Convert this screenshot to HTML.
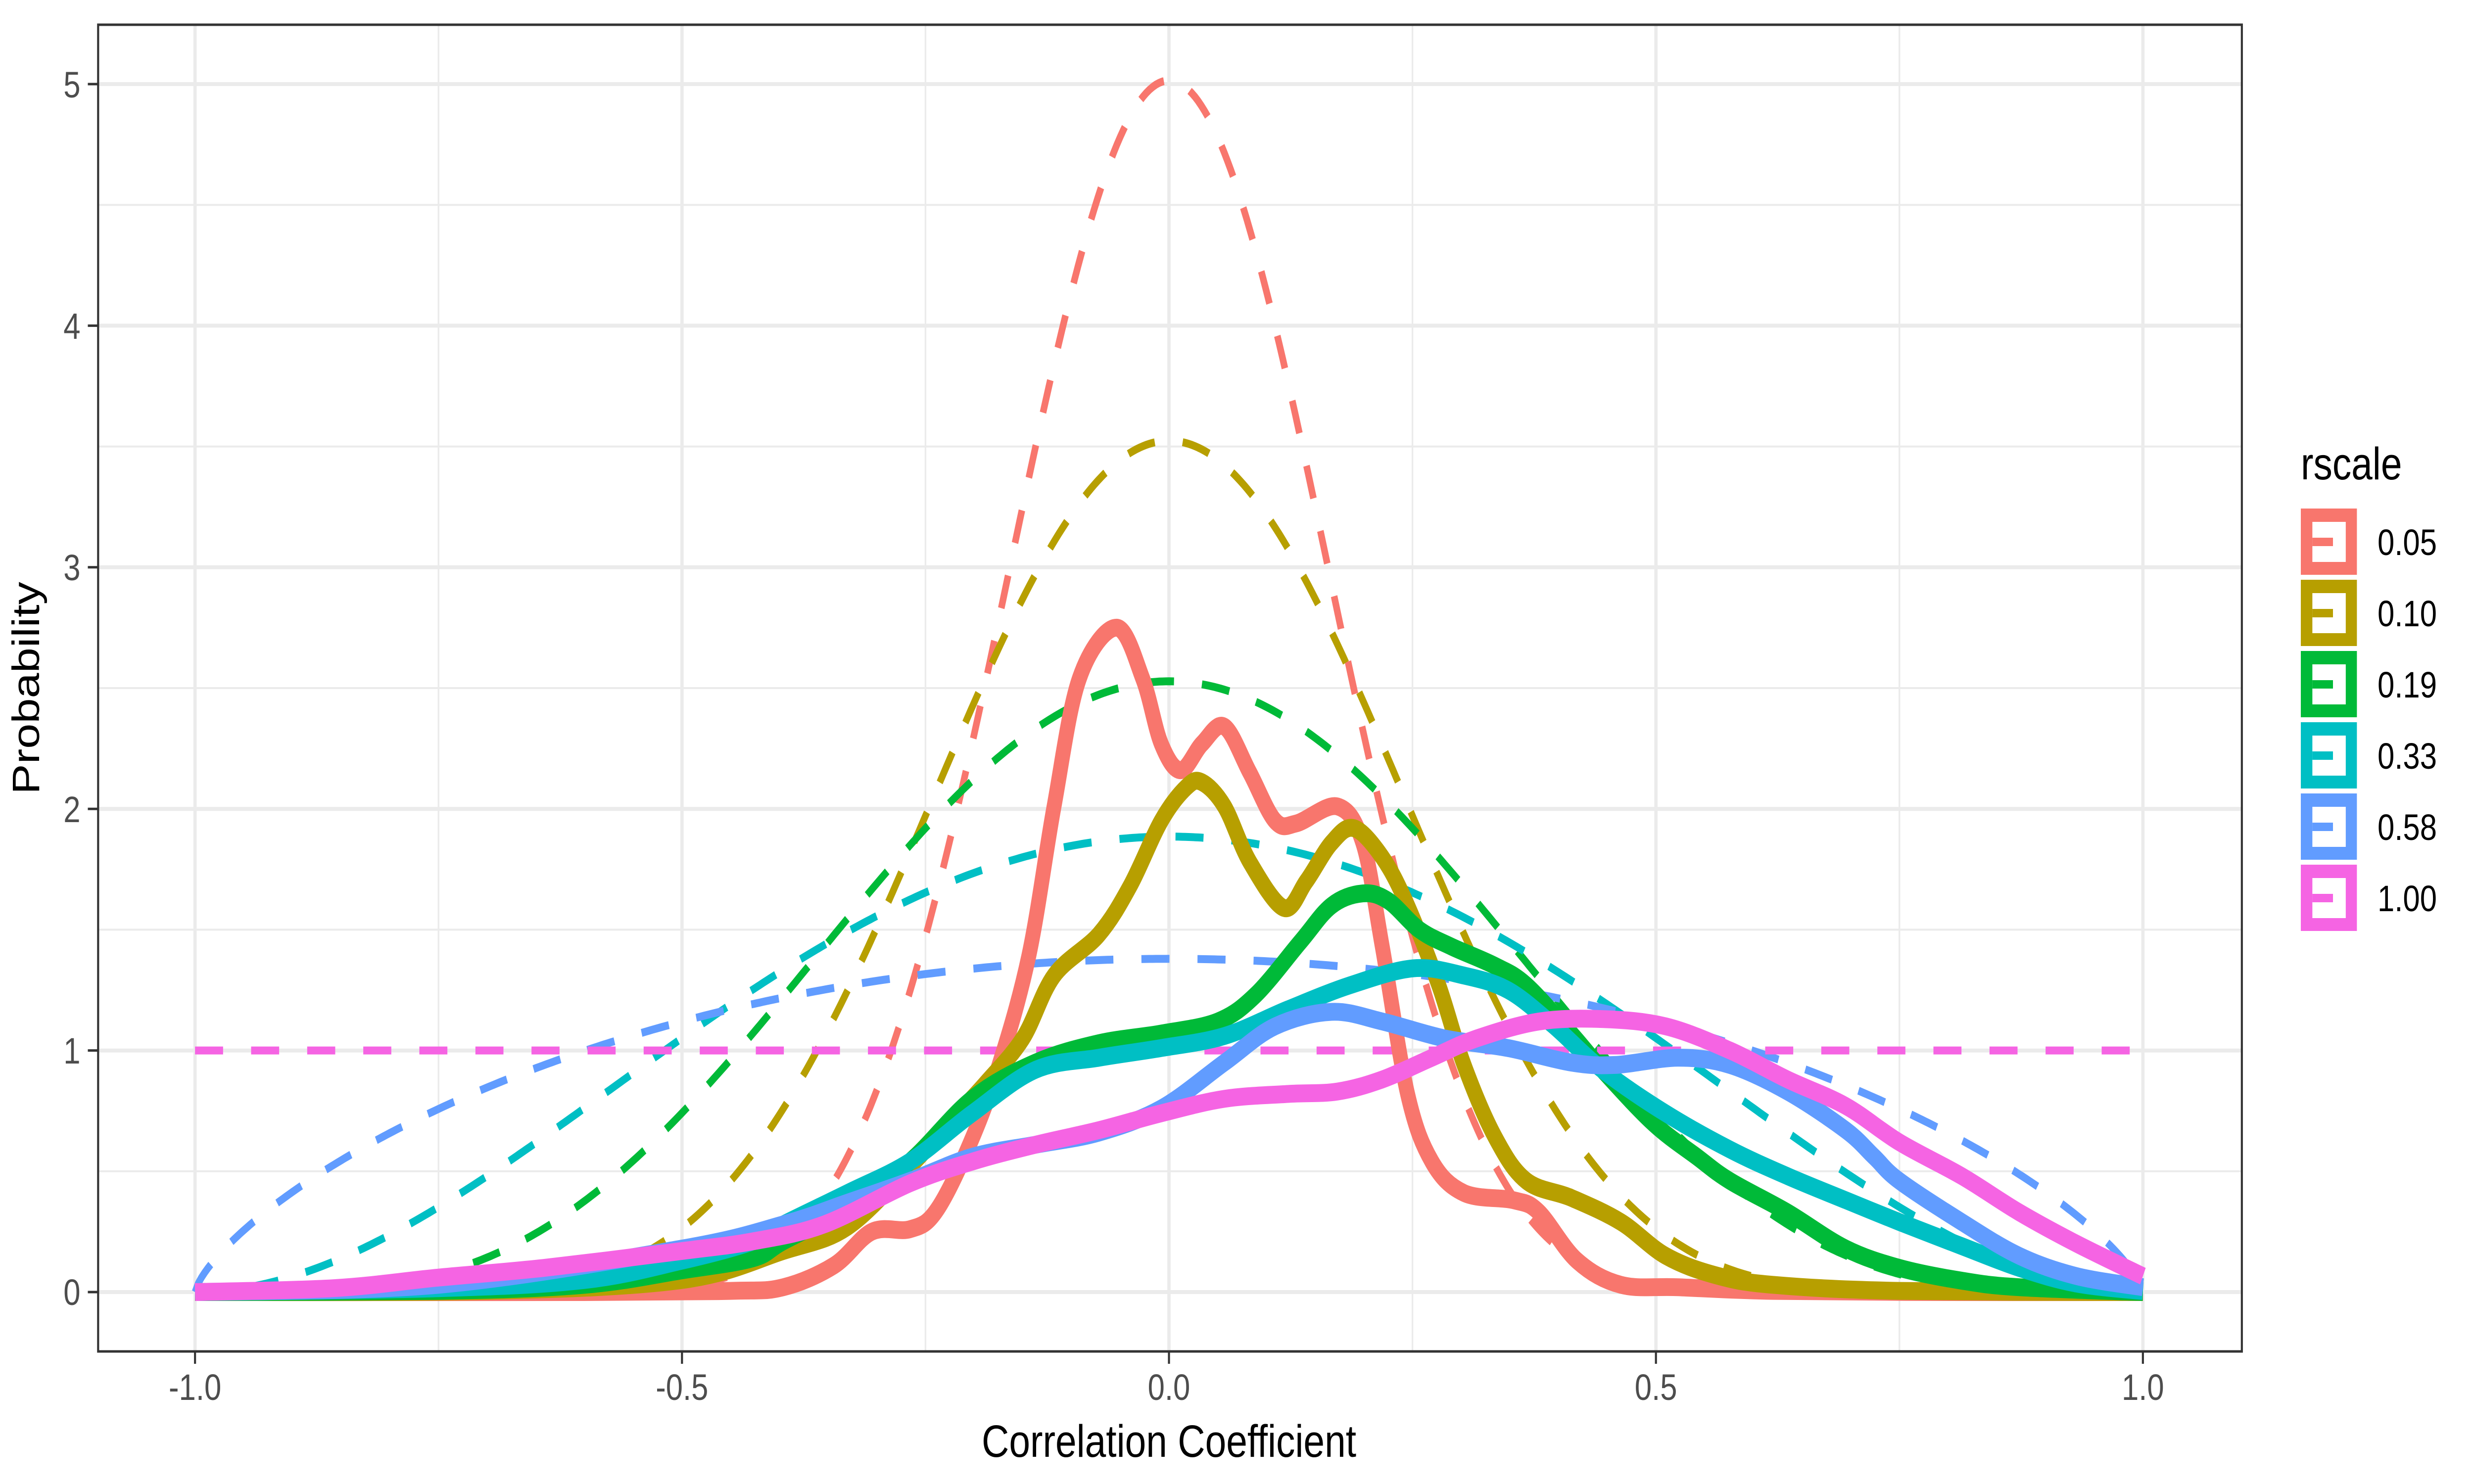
<!DOCTYPE html>
<html><head><meta charset="utf-8">
<style>
html,body{margin:0;padding:0;background:#fff;overflow:hidden;width:100%;height:100%;}
svg{display:block;width:100vw;height:100vh;}
text{font-family:"Liberation Sans",Arial,sans-serif;}
</style></head>
<body>
<svg id="s" viewBox="0 0 6000 3000" preserveAspectRatio="none" xmlns="http://www.w3.org/2000/svg">
<rect x="0" y="0" width="6000" height="3000" fill="#fff"/>
<g id="grid"></g>
<g id="curves"></g>
<rect x="238" y="50" width="5199" height="2682" fill="none" stroke="#333" stroke-width="5"/>
<g id="ticks" stroke="#333" stroke-width="5"></g>
<g fill="#4d4d4d" font-size="74" text-anchor="end">
<text x="195" y="2638">0</text>
<text x="195" y="2150">1</text>
<text x="195" y="1662">2</text>
<text x="195" y="1173">3</text>
<text x="195" y="685">4</text>
<text x="195" y="197">5</text>
</g>
<g fill="#4d4d4d" font-size="74" text-anchor="middle">
<text x="473" y="2830">-1.0</text>
<text x="1654" y="2830">-0.5</text>
<text x="2835" y="2830">0.0</text>
<text x="4016" y="2830">0.5</text>
<text x="5197" y="2830">1.0</text>
</g>
<text x="2835" y="2945" font-size="92" text-anchor="middle" fill="#000">Correlation Coefficient</text>
<text transform="translate(95,1391) rotate(-90)" font-size="92" text-anchor="middle" fill="#000">Probability</text>
<text x="5580" y="969" font-size="92" fill="#000">rscale</text>
<g id="legend"></g>
</svg>
<script>
(function(){
var NS="http://www.w3.org/2000/svg";
function X(r){return 2835+2362*r;}
function Y(p){return 2612-488.4*p;}
function el(tag,attrs,parent){var e=document.createElementNS(NS,tag);for(var k in attrs)e.setAttribute(k,attrs[k]);parent.appendChild(e);return e;}
var grid=document.getElementById('grid');
var i;
[-0.75,-0.25,0.25,0.75].forEach(function(r){el('line',{x1:X(r),x2:X(r),y1:50,y2:2732,stroke:'#ebebeb','stroke-width':4},grid);});
[0.5,1.5,2.5,3.5,4.5].forEach(function(p){el('line',{x1:238,x2:5437,y1:Y(p),y2:Y(p),stroke:'#ebebeb','stroke-width':4},grid);});
[-1,-0.5,0,0.5,1].forEach(function(r){el('line',{x1:X(r),x2:X(r),y1:50,y2:2732,stroke:'#ebebeb','stroke-width':8},grid);});
[0,1,2,3,4,5].forEach(function(p){el('line',{x1:238,x2:5437,y1:Y(p),y2:Y(p),stroke:'#ebebeb','stroke-width':8},grid);});
var ticks=document.getElementById('ticks');
[-1,-0.5,0,0.5,1].forEach(function(r){el('line',{x1:X(r),x2:X(r),y1:2732,y2:2757},ticks);});
[0,1,2,3,4,5].forEach(function(p){el('line',{x1:213,x2:238,y1:Y(p),y2:Y(p)},ticks);});

function lgamma(z){var g=7,c=[0.99999999999980993,676.5203681218851,-1259.1392167224028,771.32342877765313,-176.61502916214059,12.507343278686905,-0.13857109526572012,9.9843695780195716e-6,1.5056327351493116e-7];
 z-=1;var x=c[0];for(var i=1;i<g+2;i++)x+=c[i]/(z+i);var t=z+g+0.5;return 0.5*Math.log(2*Math.PI)+(z+0.5)*Math.log(t)-t+Math.log(x);}
function betaPath(a){var lB=2*lgamma(a)-lgamma(2*a);var d='';
 for(var k=0;k<=600;k++){var r=-1+2*k/600;var x=(r+1)/2;var p;
  if(a==1)p=1;else if(x<=0||x>=1)p=0;else p=Math.exp((a-1)*Math.log(x)+(a-1)*Math.log(1-x)-lB);
  d+=(k?'L':'M')+X(r).toFixed(1)+','+Y(p).toFixed(1);}
 return d;}
function smooth(pts){var P=pts.map(function(q){return [X(q[0]),Y(q[1])];});
 var d='M'+P[0][0].toFixed(1)+','+P[0][1].toFixed(1);
 for(var i=0;i<P.length-1;i++){var p0=P[i-1]||P[i],p1=P[i],p2=P[i+1],p3=P[i+2]||P[i+1];
  var c1=[p1[0]+(p2[0]-p0[0])/6,p1[1]+(p2[1]-p0[1])/6],c2=[p2[0]-(p3[0]-p1[0])/6,p2[1]-(p3[1]-p1[1])/6];
  d+='C'+c1[0].toFixed(1)+','+c1[1].toFixed(1)+' '+c2[0].toFixed(1)+','+c2[1].toFixed(1)+' '+p2[0].toFixed(1)+','+p2[1].toFixed(1);}
 return d;}
var cols=['#F8766D','#B79F00','#00BA38','#00BFC4','#619CFF','#F564E3'];
var rs=[0.05,0.10,0.19,0.33,0.58,1.00];
var solid=[
[[-1,0],[-0.6,0],[-0.45,0.005],[-0.396,0.02],[-0.344,0.11],[-0.305,0.25],[-0.266,0.26],[-0.24,0.33],[-0.208,0.58],[-0.176,0.92],[-0.144,1.39],[-0.118,2.01],[-0.092,2.54],[-0.054,2.75],[-0.027,2.54],[-0.008,2.27],[0.012,2.16],[0.034,2.27],[0.057,2.34],[0.083,2.15],[0.109,1.95],[0.131,1.94],[0.173,2.01],[0.199,1.86],[0.219,1.43],[0.245,0.82],[0.27,0.54],[0.303,0.41],[0.354,0.38],[0.38,0.33],[0.419,0.13],[0.464,0.03],[0.523,0.02],[0.62,0.005],[0.8,0],[1,0]],
[[-1,0],[-0.7,0.005],[-0.5,0.05],[-0.396,0.17],[-0.33,0.27],[-0.266,0.52],[-0.221,0.72],[-0.189,0.86],[-0.15,1.05],[-0.118,1.31],[-0.072,1.48],[-0.04,1.68],[-0.008,1.95],[0.018,2.09],[0.034,2.11],[0.057,2.01],[0.083,1.78],[0.118,1.59],[0.141,1.7],[0.167,1.86],[0.19,1.92],[0.219,1.8],[0.245,1.6],[0.277,1.27],[0.303,0.94],[0.335,0.64],[0.367,0.46],[0.413,0.39],[0.464,0.29],[0.51,0.15],[0.561,0.07],[0.62,0.03],[0.75,0.005],[1,0]],
[[-1,0],[-0.75,0.005],[-0.6,0.03],[-0.5,0.09],[-0.427,0.14],[-0.396,0.21],[-0.33,0.35],[-0.266,0.54],[-0.202,0.8],[-0.137,0.95],[-0.072,1.03],[-0.008,1.07],[0.05,1.12],[0.089,1.23],[0.135,1.45],[0.167,1.6],[0.199,1.65],[0.225,1.62],[0.257,1.5],[0.29,1.43],[0.335,1.35],[0.367,1.27],[0.413,1.07],[0.445,0.92],[0.497,0.7],[0.542,0.56],[0.576,0.46],[0.635,0.33],[0.695,0.18],[0.75,0.1],[0.814,0.047],[0.873,0.02],[1,0]],
[[-1,0],[-0.75,0.016],[-0.6,0.05],[-0.5,0.13],[-0.427,0.21],[-0.396,0.28],[-0.33,0.41],[-0.266,0.54],[-0.202,0.74],[-0.137,0.92],[-0.072,0.97],[-0.008,1.01],[0.057,1.06],[0.122,1.17],[0.186,1.27],[0.251,1.34],[0.303,1.31],[0.348,1.25],[0.393,1.11],[0.445,0.92],[0.51,0.74],[0.576,0.59],[0.635,0.48],[0.695,0.38],[0.75,0.29],[0.814,0.19],[0.873,0.1],[0.932,0.035],[1,0.004]],
[[-1,0],[-0.75,0.03],[-0.5,0.18],[-0.396,0.28],[-0.33,0.37],[-0.266,0.46],[-0.202,0.56],[-0.137,0.61],[-0.072,0.66],[-0.008,0.76],[0.057,0.95],[0.109,1.1],[0.167,1.16],[0.219,1.12],[0.283,1.05],[0.348,1.01],[0.413,0.95],[0.458,0.94],[0.523,0.97],[0.576,0.94],[0.635,0.83],[0.695,0.67],[0.724,0.56],[0.75,0.46],[0.814,0.29],[0.873,0.15],[0.932,0.066],[1,0.02]],
[[-1,0],[-0.858,0.016],[-0.75,0.06],[-0.642,0.1],[-0.5,0.17],[-0.427,0.21],[-0.354,0.28],[-0.266,0.45],[-0.202,0.54],[-0.137,0.61],[-0.072,0.67],[-0.008,0.74],[0.057,0.8],[0.122,0.82],[0.173,0.83],[0.219,0.88],[0.27,0.97],[0.316,1.05],[0.38,1.12],[0.445,1.13],[0.51,1.1],[0.576,1.0],[0.635,0.88],[0.695,0.77],[0.75,0.62],[0.814,0.48],[0.873,0.33],[0.932,0.2],[1,0.066]]
];
var cg=document.getElementById('curves');
for(i=0;i<6;i++){el('path',{d:betaPath(1/rs[i]),fill:'none',stroke:cols[i],'stroke-width':16,'stroke-dasharray':'68 68'},cg);}
for(i=0;i<6;i++){el('path',{d:smooth(solid[i]),fill:'none',stroke:cols[i],'stroke-width':36,'stroke-linejoin':'round'},cg);}
var lg=document.getElementById('legend');
var labs=['0.05','0.10','0.19','0.33','0.58','1.00'];
for(i=0;i<6;i++){var y0=1028+i*144;
 el('rect',{x:5580,y:y0,width:136,height:134,fill:cols[i]},lg);
 el('rect',{x:5608,y:y0+27,width:81,height:81,fill:'#fff'},lg);
 el('rect',{x:5608,y:y0+59,width:50,height:17,fill:cols[i]},lg);
 var t=el('text',{x:5766,y:y0+94,'font-size':74,fill:'#000'},lg);t.textContent=labs[i];}
})();
</script>
</body></html>
